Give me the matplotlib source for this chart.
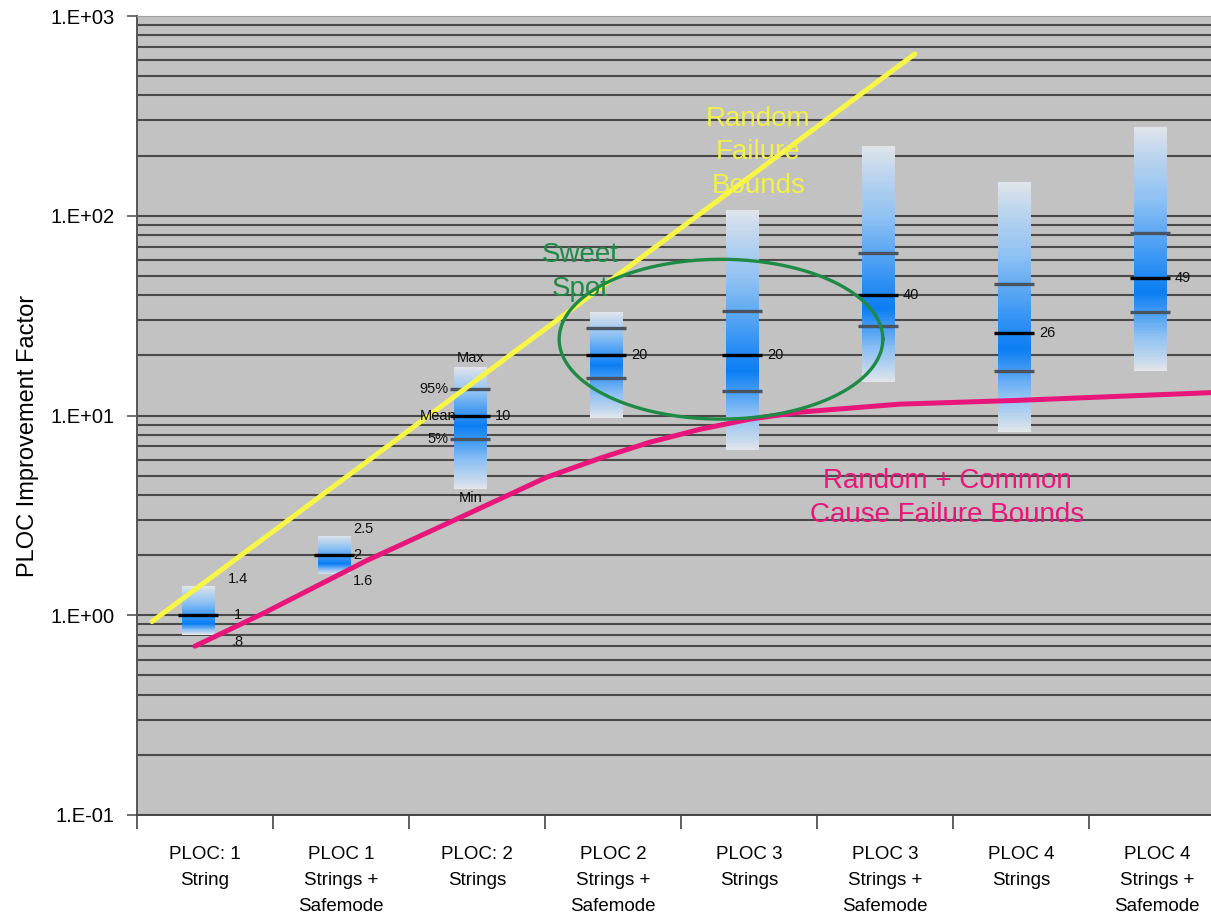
import numpy as np
import matplotlib.pyplot as plt
from matplotlib.colors import LinearSegmentedColormap

plt.rcParams['font.family'] = ['Liberation Sans', 'DejaVu Sans']

# PLOC configurations and their improvement factor distributions
categories = ['PLOC: 1\nString', 'PLOC 1\nStrings +\nSafemode', 'PLOC: 2\nStrings',
              'PLOC 2\nStrings +\nSafemode', 'PLOC 3\nStrings', 'PLOC 3\nStrings +\nSafemode',
              'PLOC 4\nStrings', 'PLOC 4\nStrings +\nSafemode']
mins = [0.8, 1.6, 4.3, 9.7, 6.7, 14.7, 8.25, 16.7]
p5 = [np.nan, np.nan, 7.6, 15.4, 13.2, 28.0, 16.7, 32.9]
means = [1, 2, 10, 20, 20, 40, 26, 49]
p95 = [np.nan, np.nan, 13.5, 27.4, 33.3, 65.3, 45.4, 81.8]
maxs = [1.4, 2.5, 17.4, 32.9, 107, 223, 147, 278]
mean_labels = ['1', '2', '10', '20', '20', '40', '26', '49']

# bound curves
random_x = [-0.39, 5.22]
random_y = [0.93, 646]
common_x = [-0.074, 0.426, 1.19, 1.80, 2.51, 2.904, 3.272, 3.64, 4.007, 4.375, 5.11, 5.97, 7.5]
common_y = [0.70, 1.02, 1.88, 2.92, 4.9, 6.11, 7.35, 8.53, 9.59, 10.4, 11.4, 11.9, 13.1]

fig = plt.figure(figsize=(12.11, 9.17), dpi=100)
ax = fig.add_axes([137 / 1211, 1 - 815 / 917, (1225 - 137) / 1211, (815 - 16) / 917])
ax.set_facecolor('#c2c2c2')
ax.set_yscale('log')
ax.set_ylim(0.1, 1000)
ax.set_xlim(-0.5, 7.5)

# horizontal grid at every decade subdivision
for dec in [0.1, 1, 10, 100]:
    for k in range(1, 10):
        ax.axhline(dec * k, color='#4a4a4a', lw=1.5, zorder=1)

cmap = LinearSegmentedColormap.from_list('bar', ['#e4e6ea', '#8ec1f3', '#0b7ef4'])
bw = 0.245
off = -0.05
for i in range(len(categories)):
    xc = i + off
    lo, hi, m = np.log10(mins[i]), np.log10(maxs[i]), np.log10(means[i])
    low_ref = np.log10(p5[i]) if not np.isnan(p5[i]) else lo
    peak = m - 0.45 * (m - low_ref)
    ly = np.linspace(lo, hi, 160)
    t = np.where(ly >= peak, (hi - ly) / (hi - peak), (ly - lo) / (peak - lo))
    t = np.clip(t, 0, 1) ** 0.85
    X = np.array([xc - bw / 2, xc + bw / 2])
    Y = 10 ** ly
    ax.pcolormesh(X, Y, t[:-1, None], cmap=cmap, vmin=0, vmax=1, zorder=2,
                  shading='flat')
    for v in (p5[i], p95[i]):
        if not np.isnan(v):
            ax.plot([xc - bw / 2 - 0.025, xc + bw / 2 + 0.025], [v, v],
                    color='#4a5360', lw=2.4, zorder=3, solid_capstyle='butt')
    ax.plot([xc - bw / 2 - 0.025, xc + bw / 2 + 0.025], [means[i], means[i]],
            color='black', lw=2.4, zorder=3, solid_capstyle='butt')

# value labels
lab = dict(fontsize=10.5, color='#111111', zorder=6)
ax.text(0.24, maxs[0], '1.4', ha='center', va='bottom', **lab)
ax.text(0.24, means[0], '1', ha='center', va='center', **lab)
ax.text(0.24, mins[0], '.8', ha='center', va='top', **lab)
ax.text(1.09, maxs[1], '2.5', ha='left', va='bottom', **lab)
ax.text(1.09, means[1], '2', ha='left', va='center', **lab)
ax.text(1.09, mins[1], '1.6', ha='left', va='top', **lab)
for i in range(2, len(categories)):
    ax.text(i + off + bw / 2 + 0.06, means[i], mean_labels[i], ha='left', va='center', **lab)

# key on the third bar
xc = 2 + off
ax.text(xc, maxs[2] * 1.03, 'Max', ha='center', va='bottom', **lab)
ax.text(xc, mins[2] / 1.03, 'Min', ha='center', va='top', **lab)
ax.text(xc - bw / 2 - 0.04, p95[2], '95%', ha='right', va='center', **lab)
ax.text(xc - bw / 2 + 0.02, means[2], 'Mean', ha='right', va='center', **lab)
ax.text(xc - bw / 2 - 0.04, p5[2], '5%', ha='right', va='center', **lab)

# bounds
ax.plot(random_x, random_y, color='#f7f545', lw=3.6, zorder=4, solid_capstyle='round')
ax.plot(common_x, common_y, color='#e8157a', lw=3.6, zorder=4, solid_capstyle='round',
        solid_joinstyle='round')

# sweet spot ellipse
tt = np.linspace(0, 2 * np.pi, 300)
ax.plot(3.794 + 1.19 * np.cos(tt), 10 ** (1.382 + 0.40 * np.sin(tt)),
        color='#1f8a45', lw=2.4, zorder=5)

big = dict(fontsize=20, ha='center', va='center', linespacing=1.38, zorder=6)
ax.text(4.07, 10 ** ((615 - 152) / 199.7), 'Random\nFailure\nBounds', color='#f2f04a', **big)
ax.text(2.76, 10 ** ((615 - 272) / 199.7), 'Sweet\nSpot', color='#1f8a45', **big)
ax.text(5.46, 10 ** ((615 - 498) / 199.7), 'Random + Common\nCause Failure Bounds',
        color='#e8157a', **big)

# axes styling
ax.set_yticks([0.1, 1, 10, 100, 1000])
ax.set_yticklabels(['1.E-01', '1.E+00', '1.E+01', '1.E+02', '1.E+03'])
ax.yaxis.set_minor_locator(plt.NullLocator())
ax.tick_params(axis='y', which='major', length=7, width=1.2, color='#555555',
               labelsize=14.5, pad=9)
ax.set_xticks(np.arange(-0.5, 8, 1))
ax.set_xticklabels([])
ax.set_xticks(np.arange(8), minor=True)
ax.set_xticklabels(categories, minor=True, fontsize=13.5, linespacing=1.7)
ax.tick_params(axis='x', which='major', length=10, width=1.2, color='#444444')
ax.tick_params(axis='x', which='minor', length=0, pad=22)
ax.spines['left'].set_color('#555555')
ax.spines['left'].set_linewidth(1.4)
ax.spines['bottom'].set_color('#444444')
ax.spines['bottom'].set_linewidth(1.4)
ax.spines['top'].set_color('#a0a0a0')
ax.spines['right'].set_visible(False)

ax.set_ylabel('PLOC Improvement Factor', fontsize=17)
ax.yaxis.set_label_coords(-0.09, 0.474)

fig.savefig('out.png', dpi=100)
